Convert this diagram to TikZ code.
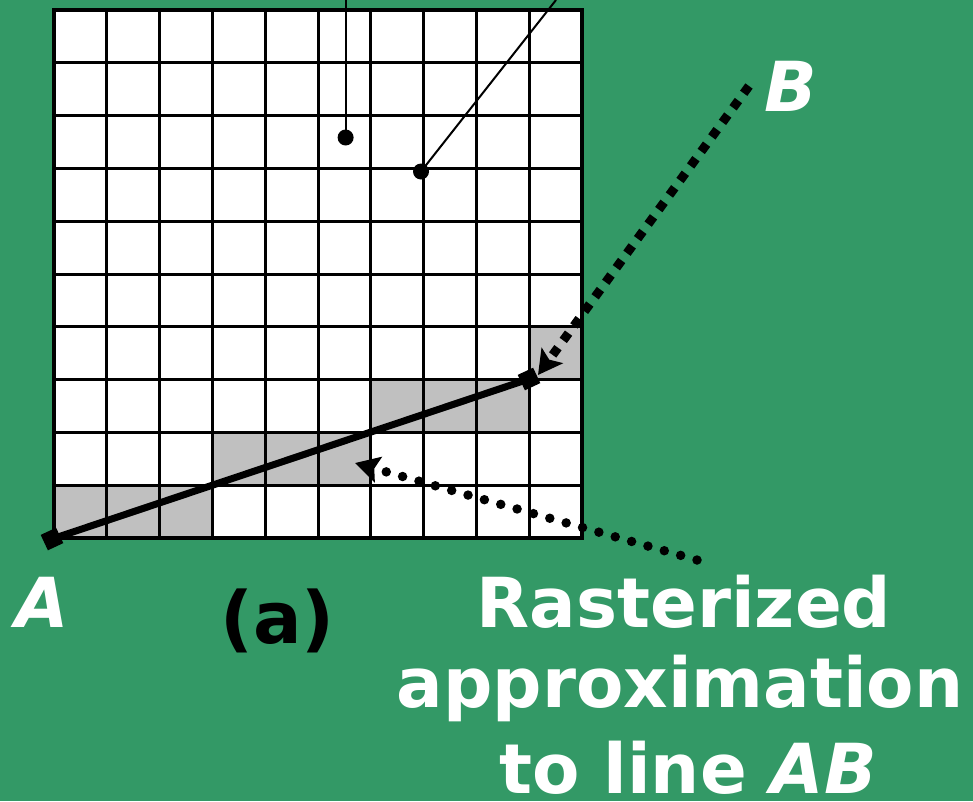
\documentclass[tikz,border=0pt]{standalone}
\usepackage{fontspec}
\setmainfont{DejaVu Sans}
\usetikzlibrary{arrows.meta,shapes.geometric}
\definecolor{bggreen}{RGB}{51,153,102}
\definecolor{cellgray}{RGB}{192,192,192}
\tikzset{
  lbl/.style={inner sep=0pt, font=\fontsize{69}{80}\selectfont\bfseries},
  whitelbl/.style={lbl, text=white},
  endmark/.style={draw=none, fill=black, rectangle, minimum size=17pt, inner sep=0pt, rotate=25},
  dotmark/.style={circle, fill=black, minimum size=16pt, inner sep=0pt},
  pointer/.style={line width=2pt},
  gridline/.style={line width=3pt},
  sqdots/.style={line width=9pt, dash pattern=on 9pt off 9pt, -{Stealth[length=24pt,width=26pt,inset=5pt]}},
  rddots/.style={line width=9.5pt, line cap=round, dash pattern=on 0pt off 17pt, -{Stealth[length=24pt,width=26pt,inset=4pt]}},
}
\begin{document}
\begin{tikzpicture}[x=1pt,y=-1pt]
\useasboundingbox (0,0) rectangle (973,801);
\fill[bggreen] (0,0) rectangle (973,801);
% grid
\fill[white] (54,10) rectangle (582,538);
\foreach \c/\r in {0/9,1/9,2/9,3/8,4/8,5/8,6/7,7/7,8/7,9/6}
  \fill[cellgray] ({54+52.8*\c},{10+52.8*\r}) rectangle ({54+52.8*(\c+1)},{10+52.8*(\r+1)});
\foreach \i in {1,...,9} {
  \draw[gridline] ({54+52.8*\i},10) -- ({54+52.8*\i},538);
  \draw[gridline] (54,{10+52.8*\i}) -- (582,{10+52.8*\i});
}
\draw[line width=3.2pt] (54,10) rectangle (582,538);
% pointers from top
\node[dotmark] (p1) at (345.6,137.5) {};
\node[dotmark] (p2) at (421,171.5) {};
\coordinate (t1) at (345.6,0);
\coordinate (t2) at (556,0);
\draw[pointer] (t1) -- (p1.center);
\draw[pointer] (t2) -- (p2.center);
% line AB
\node[endmark] (a) at (52,539) {};
\node[endmark] (e) at (529,379) {};
\draw[line width=7pt] (a.center) -- (e.center);
% dotted arrows
\coordinate (bstart) at (749,86);
\coordinate (btip) at (538,375);
\draw[sqdots] (bstart) -- (btip);
\coordinate (rstart) at (697,560);
\coordinate (rtip) at (355,463);
\draw[rddots] (rstart) -- (rtip);
% labels
\node[whitelbl, anchor=base west] (la) at (15,627) {\itshape A};
\node[whitelbl, anchor=base west] (lb) at (764,111) {\itshape B};
\node[lbl, anchor=base west, text=black, font=\fontsize{72}{80}\selectfont\bfseries] (lpa) at (220,643) {(a)};
\node[whitelbl, anchor=base] (r1) at (684,627) {Rasterized};
\node[whitelbl, anchor=base] (r2) at (680,707) {approximation};
\node[whitelbl, anchor=base] (r3) at (688,793) {to line \itshape AB};
\end{tikzpicture}
\end{document}
